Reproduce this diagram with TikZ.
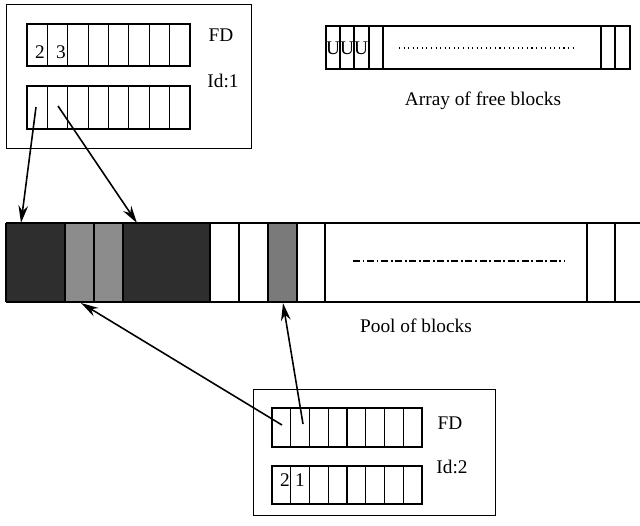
\documentclass[tikz,border=0pt]{standalone}
\usepackage{fontspec}
\setmainfont{Liberation Serif}
\usetikzlibrary{arrows.meta}
\definecolor{darkfill}{HTML}{2E2E2E}
\definecolor{lightfill}{HTML}{8C8C8C}
\definecolor{midfill}{HTML}{7A7A7A}
\begin{document}
\begin{tikzpicture}[x=0.02cm,y=-0.02cm,
  frame/.style={draw=black,line width=0.7pt},
  cellline/.style={draw=black,line width=0.6pt},
  lbl/.style={font=\fontsize{11}{13}\selectfont,inner sep=0pt},
  ptr/.style={draw=black,line width=0.9pt,-{Stealth[length=10pt,width=5.5pt]}}]
\useasboundingbox (0,0) rectangle (640,525);
% ---------- FD box Id:1 ----------
\node[frame,minimum width=245*0.02cm,minimum height=144*0.02cm,anchor=north west,inner sep=0pt] (fd1) at (6,4) {};
\foreach \r/\ya/\yb in {a/24/66,b/86/129}{
  \draw[cellline] (27,\ya) rectangle (190,\yb);
  \foreach \k in {1,...,7}{\draw[cellline] ({27+\k*163/8},\ya) -- ({27+\k*163/8},\yb);}
}
\node[lbl] (fd1t) at (221,35) {FD};
\node[lbl] (fd1id) at (223,81) {Id:1};
\node[lbl] (n12) at (40,52) {2};
\node[lbl] (n13) at (61,52) {3};
\coordinate (s1) at (36,107);
\coordinate (s2) at (58,106);
% ---------- Array of free blocks ----------
\draw[cellline] (326,26) rectangle (630,69);
\foreach \x in {340,354,369,383,601,615}{\draw[cellline] (\x,26) -- (\x,69);}
\node[lbl] (u1) at (333,48) {U};
\node[lbl] (u2) at (347,48) {U};
\node[lbl] (u3) at (361,48) {U};
\draw[black,line width=0.6pt,dotted] (399,48) -- (575,48);
\node[lbl] (arrlbl) at (483,101) {Array of free blocks};
% ---------- Pool of blocks ----------
\fill[darkfill] (6,223) rectangle (65,302);
\fill[lightfill] (65,223) rectangle (123,302);
\fill[darkfill] (123,223) rectangle (210,302);
\fill[midfill] (268,223) rectangle (297,302);
\draw[cellline] (6,223) -- (640,223);
\draw[cellline] (6,302) -- (640,302);
\draw[cellline] (6,223) -- (6,302);
\foreach \x in {65,94,123,210,239,268,297,325,587,615}{\draw[cellline] (\x,223) -- (\x,302);}
\draw[black,line width=0.6pt,dash pattern=on 4pt off 1.5pt on 1pt off 1.5pt] (353,261) -- (565,261);
\node[lbl] (poollbl) at (416,326) {Pool of blocks};
\coordinate (p1) at (21,223);
\coordinate (p2) at (137,223);
\coordinate (p3) at (81,303);
\coordinate (p4) at (283,303);
% ---------- FD box Id:2 ----------
\node[frame,minimum width=242*0.02cm,minimum height=126*0.02cm,anchor=north west,inner sep=0pt] (fd2) at (253,389) {};
\foreach \r/\ya/\yb in {a/408/447,b/466/504}{
  \draw[cellline] (272,\ya) rectangle (422,\yb);
  \foreach \k in {1,...,7}{\draw[cellline] ({272+\k*150/8},\ya) -- ({272+\k*150/8},\yb);}
}
\node[lbl] (fd2t) at (450,423) {FD};
\node[lbl] (fd2id) at (452,467) {Id:2};
\node[lbl] (n22) at (285,480) {2};
\node[lbl] (n21) at (300,480) {1};
\coordinate (s3) at (282,425);
\coordinate (s4) at (303,424);
% ---------- pointers ----------
\draw[ptr] (s1) -- (p1);
\draw[ptr] (s2) -- (p2);
\draw[ptr] (s3) -- (p3);
\draw[ptr] (s4) -- (p4);
\end{tikzpicture}
\end{document}
